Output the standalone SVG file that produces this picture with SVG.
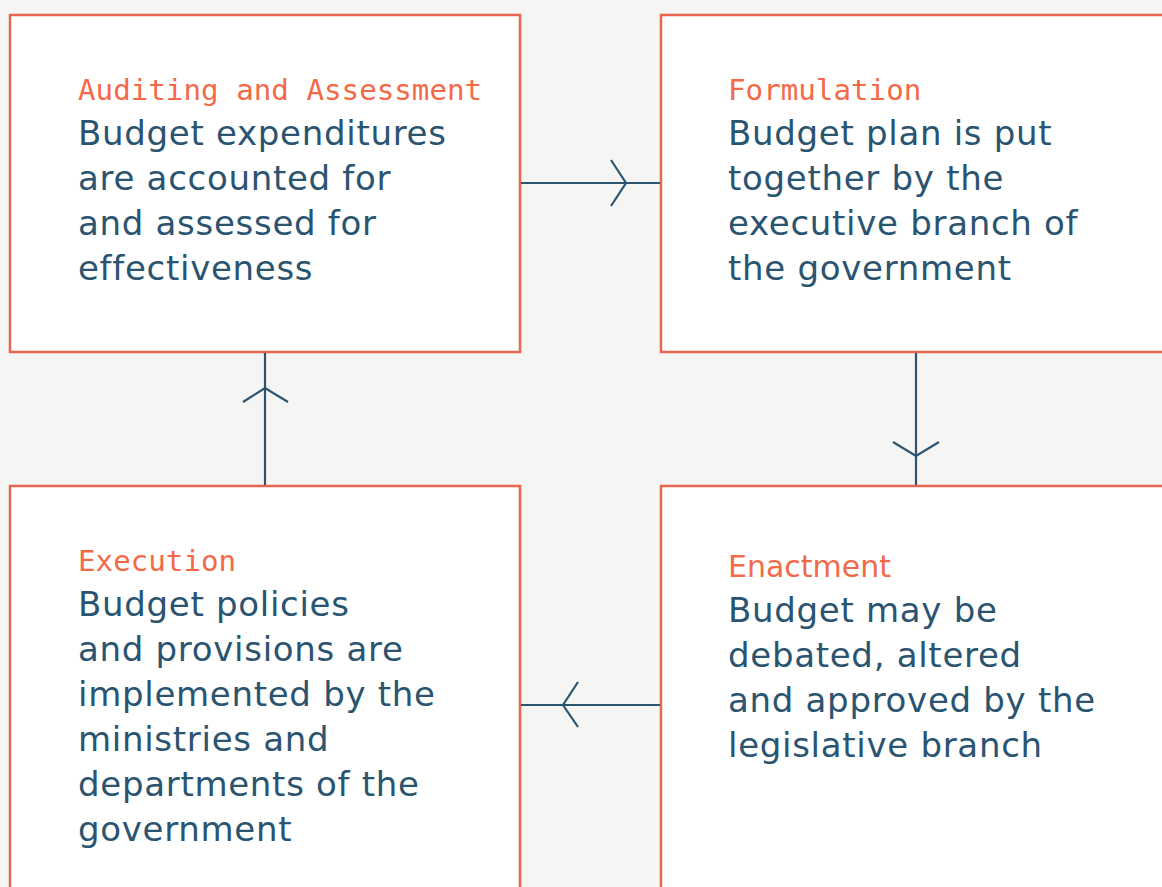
<svg xmlns="http://www.w3.org/2000/svg" width="1162" height="887" viewBox="0 0 1162 887">
<style>
.box{fill:#ffffff;stroke:#e8654e;stroke-width:2.5}
.lbl{font-family:"DejaVu Sans Mono","Liberation Mono",monospace;font-size:29.2px;fill:#f26a47}
.lbls{font-family:"DejaVu Sans","Noto Sans",sans-serif;font-size:30px;fill:#f26a47}
.body{font-family:"DejaVu Sans","Noto Sans",sans-serif;font-size:34px;letter-spacing:0.7px;fill:#2a5470}
.con{fill:none;stroke:#2a5470;stroke-width:2.2;stroke-linecap:butt;stroke-linejoin:miter}
</style>
<rect x="0" y="0" width="1162" height="887" fill="#f5f5f3"/>
<g id="node-auditing">
<rect class="box" x="10" y="15" width="510" height="337"/>
<text class="lbl" x="78" y="100">Auditing and Assessment</text>
<text class="body" x="78" y="145">Budget expenditures</text>
<text class="body" x="78" y="190">are accounted for</text>
<text class="body" x="78" y="235">and assessed for</text>
<text class="body" x="78" y="280">effectiveness</text>
</g>
<g id="node-formulation">
<rect class="box" x="661" y="15" width="560" height="337"/>
<text class="lbl" x="728" y="100">Formulation</text>
<text class="body" x="728" y="145">Budget plan is put</text>
<text class="body" x="728" y="190">together by the</text>
<text class="body" x="728" y="235">executive branch of</text>
<text class="body" x="728" y="280">the government</text>
</g>
<g id="node-execution">
<rect class="box" x="10" y="486" width="510" height="460"/>
<text class="lbl" x="78" y="571">Execution</text>
<text class="body" x="78" y="616">Budget policies</text>
<text class="body" x="78" y="661">and provisions are</text>
<text class="body" x="78" y="706">implemented by the</text>
<text class="body" x="78" y="751">ministries and</text>
<text class="body" x="78" y="796">departments of the</text>
<text class="body" x="78" y="841">government</text>
</g>
<g id="node-enactment">
<rect class="box" x="661" y="486" width="560" height="460"/>
<text class="lbls" x="728" y="577">Enactment</text>
<text class="body" x="728" y="622">Budget may be</text>
<text class="body" x="728" y="667">debated, altered</text>
<text class="body" x="728" y="712">and approved by the</text>
<text class="body" x="728" y="757">legislative branch</text>
</g>
<g id="connectors">
<line class="con" x1="521" y1="183" x2="660" y2="183"/>
<polyline class="con" points="611,160 626,183 611,206"/>
<line class="con" x1="916" y1="353" x2="916" y2="485"/>
<polyline class="con" points="893,442 916,456 939,442"/>
<line class="con" x1="660" y1="705" x2="521" y2="705"/>
<polyline class="con" points="578,682 563,705 578,727"/>
<line class="con" x1="265" y1="485" x2="265" y2="353"/>
<polyline class="con" points="243,402 265,388 288,402"/>
</g>
</svg>
